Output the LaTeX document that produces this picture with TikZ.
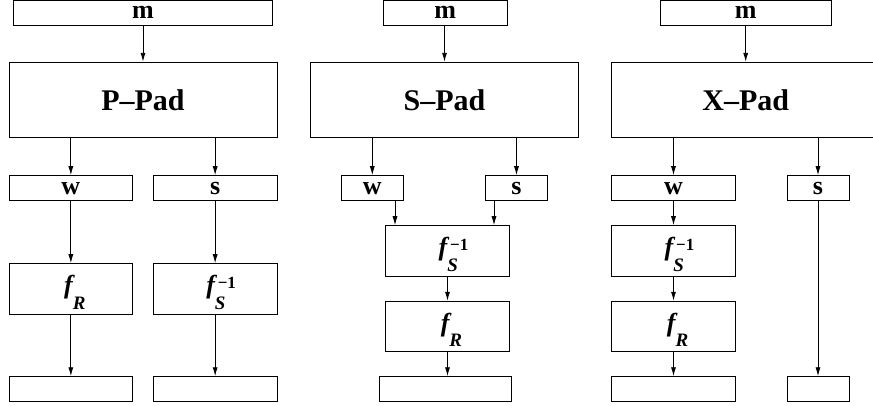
\documentclass[tikz,border=0pt]{standalone}
\usepackage{fontspec}
\setmainfont{Liberation Serif}
\usetikzlibrary{arrows.meta}
\newcommand{\lbl}{\fontsize{26}{28}\selectfont\bfseries}
\newcommand{\padfont}{\fontsize{30}{32}\selectfont\bfseries}
\newcommand{\fR}{\hspace*{8pt}\raisebox{-4.5pt}[0pt][0pt]{\bfseries\itshape\fontsize{26}{26}\selectfont f\raisebox{-16pt}{\fontsize{19}{19}\selectfont R}}}
\newcommand{\fSi}{\hspace*{12pt}\raisebox{-4.5pt}[0pt][0pt]{\bfseries\itshape\fontsize{26}{26}\selectfont f\rlap{\raisebox{-16pt}{\fontsize{19}{19}\selectfont S}}\raisebox{4.5pt}{\upshape\fontsize{17}{17}\selectfont\,−1}}}
\begin{document}
\begin{tikzpicture}[x=1pt,y=-1pt,
  box/.style={draw=black,line width=0.9pt,inner sep=0pt,minimum height=25pt},
  arr/.style={-{Latex[length=9pt,width=5pt]},line width=0.9pt}]
\useasboundingbox (0,0) rectangle (873,406);
% ---------- panel 1 ----------
\node[box,minimum width=259.4pt,font=\lbl] (m1) at (143,12.5) {m};
\node[box,minimum width=268pt,minimum height=75.4pt,font=\padfont] (pad1) at (143,100) {P–Pad};
\node[box,minimum width=123.7pt,font=\lbl] (w1) at (70.85,188.2) {w};
\node[box,minimum width=123.7pt,font=\lbl] (s1) at (215.15,188.2) {s};
\node[box,minimum width=123.7pt,minimum height=50.3pt] (fR1) at (70.85,288.85) {\fR};
\node[box,minimum width=123.7pt,minimum height=50.3pt] (fS1) at (215.15,288.85) {\fSi};
\node[box,minimum width=123.7pt] (o1a) at (70.85,389.2) {};
\node[box,minimum width=123.7pt] (o1b) at (215.15,389.2) {};
\draw[arr] (m1) -- (pad1);
\draw[arr] (pad1.south -| w1) -- (w1);
\draw[arr] (pad1.south -| s1) -- (s1);
\draw[arr] (w1) -- (fR1);
\draw[arr] (s1) -- (fS1);
\draw[arr] (fR1) -- (o1a);
\draw[arr] (fS1) -- (o1b);
% ---------- panel 2 ----------
\node[box,minimum width=124pt,font=\lbl] (m2) at (445.3,12.5) {m};
\node[box,minimum width=267.6pt,minimum height=75.4pt,font=\padfont] (pad2) at (444.5,100) {S–Pad};
\node[box,minimum width=62pt,font=\lbl] (w2) at (372.3,188.2) {w};
\node[box,minimum width=61.6pt,font=\lbl] (s2) at (516.5,188.2) {s};
\node[box,minimum width=123.6pt,minimum height=50.6pt] (fS2) at (447.5,251) {\fSi};
\node[box,minimum width=123.6pt,minimum height=50.4pt] (fR2) at (447.5,326.5) {\fR};
\node[box,minimum width=132pt] (o2) at (445.3,389.2) {};
\coordinate (c2a) at (395,0);
\coordinate (c2b) at (494,0);
\draw[arr] (m2.south -| pad2.north) -- (pad2.north);
\draw[arr] (pad2.south -| w2) -- (w2);
\draw[arr] (pad2.south -| s2) -- (s2);
\draw[arr] (w2.south -| c2a) -- (fS2.north -| c2a);
\draw[arr] (s2.south -| c2b) -- (fS2.north -| c2b);
\draw[arr] (fS2) -- (fR2);
\draw[arr] (fR2) -- (fR2.south |- o2.north);
% ---------- panel 3 ----------
\node[box,minimum width=170.7pt,font=\lbl] (m3) at (745.65,12.5) {m};
\node[box,minimum width=268pt,minimum height=75.4pt,font=\padfont] (pad3) at (745.7,100) {X–Pad};
\node[box,minimum width=123.6pt,font=\lbl] (w3) at (673.5,188.2) {w};
\node[box,minimum width=62pt,font=\lbl] (s3) at (818,188.2) {s};
\node[box,minimum width=123.6pt,minimum height=50.6pt] (fS3) at (673.5,251) {\fSi};
\node[box,minimum width=123.6pt,minimum height=50.4pt] (fR3) at (673.5,326.5) {\fR};
\node[box,minimum width=123.6pt] (o3a) at (673.5,389.2) {};
\node[box,minimum width=62pt] (o3b) at (818,389.2) {};
\draw[arr] (m3.south -| pad3.north) -- (pad3.north);
\draw[arr] (pad3.south -| w3) -- (w3);
\draw[arr] (pad3.south -| s3) -- (s3);
\draw[arr] (w3) -- (fS3);
\draw[arr] (fS3) -- (fR3);
\draw[arr] (fR3) -- (o3a);
\draw[arr] (s3) -- (o3b);
\end{tikzpicture}
\end{document}
